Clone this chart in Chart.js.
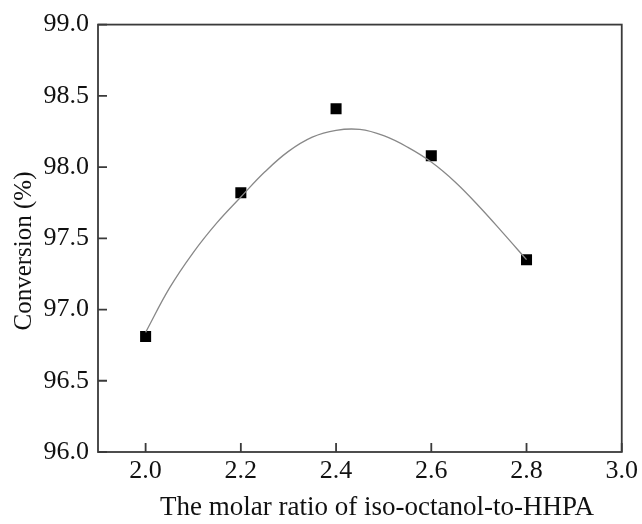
<!DOCTYPE html>
<html>
<head>
<meta charset="utf-8">
<script src="https://cdn.jsdelivr.net/npm/chart.js@4/dist/chart.umd.min.js"></script>
<style>
html,body{margin:0;padding:0;background:#fff;}
#wrap{width:642px;height:524px;}
</style>
</head>
<body>
<div id="wrap"><canvas id="c" width="642" height="524"></canvas></div>
<script>
// measured data points
const ratios = [2.0, 2.2, 2.4, 2.6, 2.8];
const conversion = [96.81, 97.82, 98.41, 98.08, 97.35];
// fitted curve
const fitX = [2.00, 2.05, 2.10, 2.15, 2.20, 2.25, 2.30, 2.35, 2.40, 2.45, 2.50, 2.55, 2.60, 2.65, 2.70, 2.75, 2.80];
const fitY = [96.84, 97.15, 97.40, 97.61, 97.79, 97.965, 98.11, 98.21, 98.258, 98.264, 98.22, 98.14, 98.035, 97.895, 97.725, 97.54, 97.35];
// tick labels
const xTicks = [2.0, 2.2, 2.4, 2.6, 2.8, 3.0];
const yTicks = [96.0, 96.5, 97.0, 97.5, 98.0, 98.5, 99.0];
const xTitle = 'The molar ratio of iso-octanol-to-HHPA';
const yTitle = 'Conversion (%)';

const FONT = "'Liberation Serif', 'Times New Roman', serif";
const AXIS_COLOR = '#3a3a3a';
const TEXT_COLOR = '#111';

const frame = {
  id: 'frame',
  afterDatasetsDraw(chart) {
    const {ctx, chartArea: a, scales} = chart;
    ctx.save();
    ctx.strokeStyle = AXIS_COLOR;
    ctx.lineWidth = 1.8;
    ctx.strokeRect(a.left, a.top, a.right - a.left, a.bottom - a.top);
    ctx.beginPath();
    const L = 9;
    xTicks.forEach(v => {
      const x = scales.x.getPixelForValue(v);
      ctx.moveTo(x, a.bottom); ctx.lineTo(x, a.bottom - L);
    });
    yTicks.forEach(v => {
      const y = scales.y.getPixelForValue(v);
      ctx.moveTo(a.left, y); ctx.lineTo(a.left + L, y);
    });
    ctx.stroke();
    ctx.restore();
  },
  afterDraw(chart) {
    const ctx = chart.ctx;
    ctx.save();
    ctx.fillStyle = TEXT_COLOR;
    ctx.textAlign = 'center';
    ctx.textBaseline = 'alphabetic';
    ctx.font = `27px ${FONT}`;
    ctx.fillText(xTitle, 377, 515);
    ctx.translate(31, 251);
    ctx.rotate(-Math.PI / 2);
    ctx.font = `25px ${FONT}`;
    ctx.fillText(yTitle, 0, 0);
    ctx.restore();
  }
};

new Chart(document.getElementById('c'), {
  type: 'scatter',
  data: {
    datasets: [
      {
        data: fitX.map((x, i) => ({x, y: fitY[i]})),
        showLine: true,
        borderColor: '#888888',
        borderWidth: 1.3,
        pointRadius: 0,
        tension: 0.4,
        fill: false
      },
      {
        data: ratios.map((x, i) => ({x, y: conversion[i]})),
        pointStyle: 'rect',
        pointRadius: 7.8,
        backgroundColor: '#000',
        borderColor: '#000',
        borderWidth: 0
      }
    ]
  },
  options: {
    responsive: false,
    animation: false,
    layout: {padding: {left: 0, top: 24, right: 19, bottom: 0}},
    plugins: {legend: {display: false}, tooltip: {enabled: false}},
    scales: {
      x: {
        type: 'linear', min: 1.9, max: 3.0,
        afterBuildTicks: s => { s.ticks = xTicks.map(v => ({value: v})); },
        afterFit: s => { s.height = 72; },
        grid: {display: false, drawTicks: false},
        border: {display: false},
        ticks: {
          color: TEXT_COLOR, font: {family: FONT, size: 26}, padding: 4,
          maxRotation: 0, autoSkip: false,
          callback: v => Number(v).toFixed(1)
        },
        title: {display: false}
      },
      y: {
        type: 'linear', min: 96, max: 99,
        afterBuildTicks: s => { s.ticks = yTicks.map(v => ({value: v})); },
        afterFit: s => { s.width = 98; },
        grid: {display: false, drawTicks: false},
        border: {display: false},
        ticks: {
          color: TEXT_COLOR, font: {family: FONT, size: 26}, padding: 9,
          callback: v => Number(v).toFixed(1)
        },
        title: {display: false}
      }
    }
  },
  plugins: [frame]
});
</script>
</body>
</html>
